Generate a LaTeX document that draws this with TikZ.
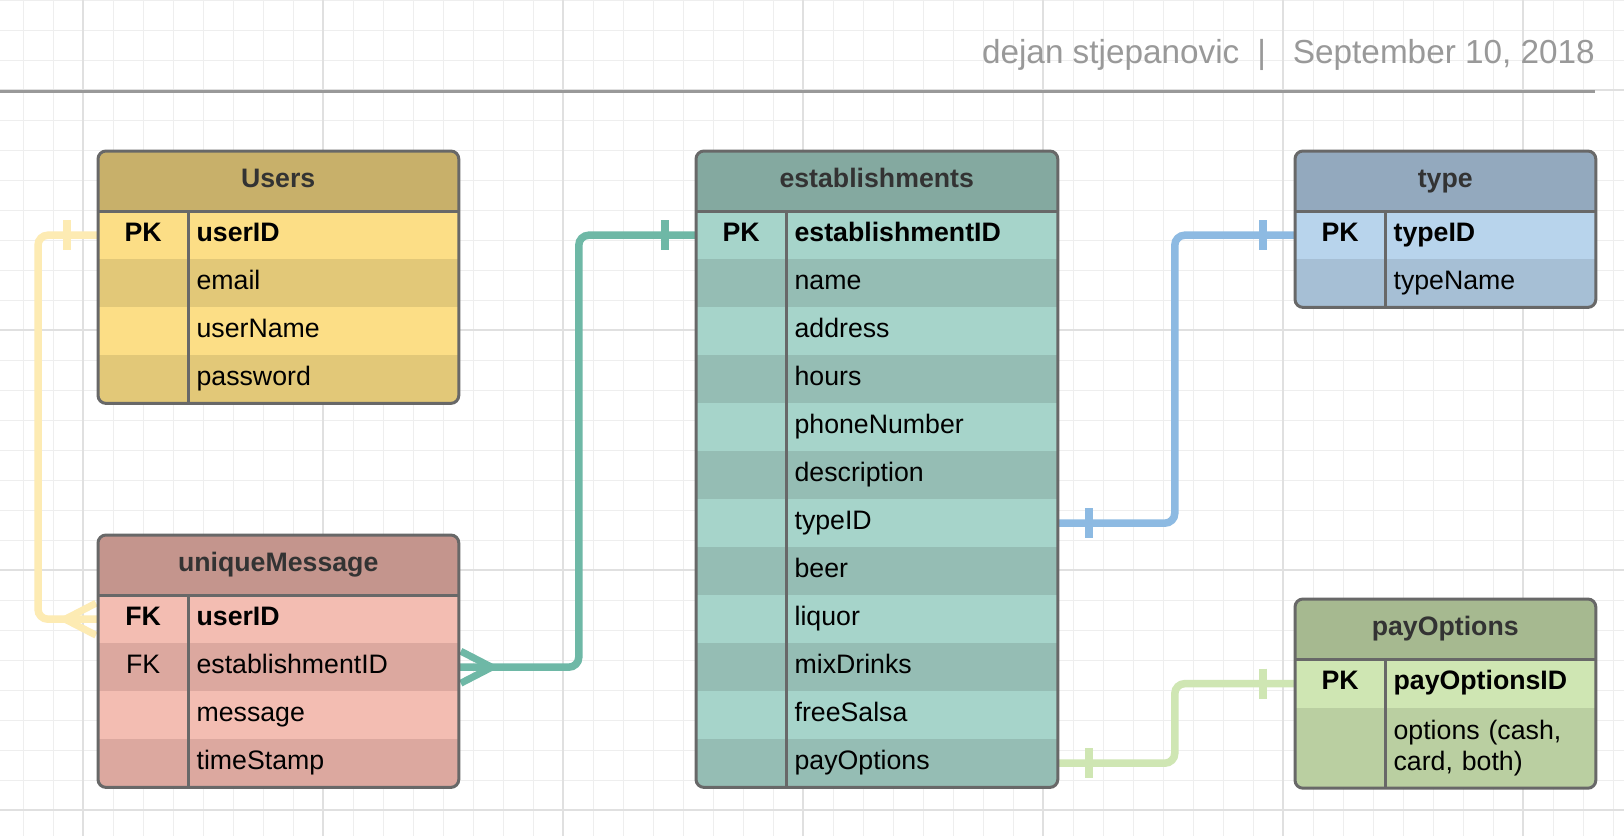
\documentclass[tikz,border=0pt]{standalone}
\usepackage{fontspec}
\setmainfont{Liberation Sans}
\usetikzlibrary{calc}
\pgfdeclarelayer{grid}
\pgfdeclarelayer{links}
\pgfsetlayers{grid,links,main}

\definecolor{gridMinor}{HTML}{EEEEEE}
\definecolor{gridMajor}{HTML}{E0E0E0}
\definecolor{noteGray}{HTML}{999999}
\definecolor{frameGray}{HTML}{686868}
\definecolor{titleGray}{HTML}{333333}
\definecolor{usrHead}{HTML}{C8B06A}
\definecolor{usrLight}{HTML}{FCDE86}
\definecolor{usrDark}{HTML}{E2C878}
\definecolor{usrLink}{HTML}{FDEBB3}
\definecolor{msgHead}{HTML}{C4958D}
\definecolor{msgLight}{HTML}{F3BDB2}
\definecolor{msgDark}{HTML}{DCA89F}
\definecolor{estHead}{HTML}{84A9A0}
\definecolor{estLight}{HTML}{A6D4CA}
\definecolor{estDark}{HTML}{95BDB4}
\definecolor{estLink}{HTML}{6EB8A6}
\definecolor{typHead}{HTML}{93A9BE}
\definecolor{typLight}{HTML}{B8D4EC}
\definecolor{typDark}{HTML}{A6BFD5}
\definecolor{typLink}{HTML}{8DBAE2}
\definecolor{payHead}{HTML}{A6B990}
\definecolor{payLight}{HTML}{CFE6B3}
\definecolor{payDark}{HTML}{BACFA1}
\definecolor{payLink}{HTML}{CFE6B3}

\newcommand{\cellfont}{\fontsize{26.7}{31}\selectfont}
\newcommand{\notefont}{\fontsize{33.3}{38}\selectfont}

\tikzset{
  gridminor/.style={draw=gridMinor, line width=1pt},
  gridmajor/.style={draw=gridMajor, line width=1.4pt},
  tabhead/.style={fill=#1, anchor=north west, minimum height=60pt, inner sep=0pt,
    font=\cellfont\bfseries, text=titleGray, text height=19pt, text depth=6.5pt},
  keycell/.style={fill=#1, anchor=north west, minimum width=90pt, minimum height=48pt,
    inner sep=0pt, font=\cellfont, text height=19pt, text depth=6.5pt},
  fieldcell/.style={anchor=north west, minimum height=48pt, inner xsep=8pt, inner ysep=0pt,
    align=left, text width=#1, font=\cellfont, text height=19pt, text depth=6.5pt},
  frame/.style={draw=frameGray, line width=3pt, rounded corners=8pt},
  rule/.style={draw=frameGray, line width=3pt},
  link/.style={line width=7.5pt, rounded corners=10pt},
  tick/.style={line width=7.5pt},
  crow/.style={line width=7pt, line join=round}
}

\begin{document}
\begin{tikzpicture}[x=1pt, y=-1pt]
  \useasboundingbox (0,0) rectangle (1624,836);

  \begin{pgfonlayer}{grid}
    \fill[white] (0,0) rectangle (1624,836);
    \foreach \gx in {23,53,...,1613} \draw[gridminor] (\gx,0) -- (\gx,836);
    \foreach \gy in {0,30,...,810} \draw[gridminor] (0,\gy) -- (1624,\gy);
    \foreach \gx in {83,323,...,1523} \draw[gridmajor] (\gx,0) -- (\gx,836);
    \foreach \gy in {90,330,570,810} \draw[gridmajor] (0,\gy) -- (1624,\gy);
  \end{pgfonlayer}

  % title block
  \node[anchor=base east, font=\notefont, text=noteGray, inner sep=0pt] (author) at (1595,63)
    {dejan stjepanovic\hspace{18pt}|\hspace{27pt}September 10, 2018};
  \draw[line width=3pt, draw=noteGray] (0,91) -- (1595,91);

  % Users
  \begin{scope}
    \clip[rounded corners=8pt] (98,151) rectangle (458,403);
    \node[tabhead=usrHead, minimum width=360pt] (usr) at (98,151) {Users};
    \foreach \k/\f [count=\i] in {\textbf{PK}/\textbf{userID}, {}/email, {}/userName, {}/password}{
      \ifodd\i \colorlet{rowfill}{usrLight}\else\colorlet{rowfill}{usrDark}\fi
      \node[keycell=rowfill] (usr-k\i) at (98,{211+48*(\i-1)}) {\k};
      \node[fieldcell=254pt, fill=rowfill] (usr-\i) at (usr-k\i.north east) {\f};
    }
  \end{scope}
  \draw[rule] (usr.south west) -- (usr.south east);
  \draw[rule] (usr-k1.north east) -- (usr-k4.south east);
  \draw[frame] (usr.north west) rectangle (usr-4.south east);

  % uniqueMessage
  \begin{scope}
    \clip[rounded corners=8pt] (98,535) rectangle (458,787);
    \node[tabhead=msgHead, minimum width=360pt] (msg) at (98,535) {uniqueMessage};
    \foreach \k/\f [count=\i] in {\textbf{FK}/\textbf{userID}, FK/establishmentID, {}/message, {}/timeStamp}{
      \ifodd\i \colorlet{rowfill}{msgLight}\else\colorlet{rowfill}{msgDark}\fi
      \node[keycell=rowfill] (msg-k\i) at (98,{595+48*(\i-1)}) {\k};
      \node[fieldcell=254pt, fill=rowfill] (msg-\i) at (msg-k\i.north east) {\f};
    }
  \end{scope}
  \draw[rule] (msg.south west) -- (msg.south east);
  \draw[rule] (msg-k1.north east) -- (msg-k4.south east);
  \draw[frame] (msg.north west) rectangle (msg-4.south east);

  % establishments
  \begin{scope}
    \clip[rounded corners=8pt] (696,151) rectangle (1057,787);
    \node[tabhead=estHead, minimum width=361pt] (est) at (696,151) {establishments};
    \foreach \k/\f [count=\i] in {\textbf{PK}/\textbf{establishmentID}, {}/name, {}/address,
        {}/hours, {}/phoneNumber, {}/description, {}/typeID, {}/beer, {}/liquor,
        {}/mixDrinks, {}/freeSalsa, {}/payOptions}{
      \ifodd\i \colorlet{rowfill}{estLight}\else\colorlet{rowfill}{estDark}\fi
      \node[keycell=rowfill] (est-k\i) at (696,{211+48*(\i-1)}) {\k};
      \node[fieldcell=255pt, fill=rowfill] (est-\i) at (est-k\i.north east) {\f};
    }
  \end{scope}
  \draw[rule] (est.south west) -- (est.south east);
  \draw[rule] (est-k1.north east) -- (est-k12.south east);
  \draw[frame] (est.north west) rectangle (est-12.south east);

  % type
  \begin{scope}
    \clip[rounded corners=8pt] (1295,151) rectangle (1595,307);
    \node[tabhead=typHead, minimum width=300pt] (typ) at (1295,151) {type};
    \foreach \k/\f [count=\i] in {\textbf{PK}/\textbf{typeID}, {}/typeName}{
      \ifodd\i \colorlet{rowfill}{typLight}\else\colorlet{rowfill}{typDark}\fi
      \node[keycell=rowfill] (typ-k\i) at (1295,{211+48*(\i-1)}) {\k};
      \node[fieldcell=194pt, fill=rowfill] (typ-\i) at (typ-k\i.north east) {\f};
    }
  \end{scope}
  \draw[rule] (typ.south west) -- (typ.south east);
  \draw[rule] (typ-k1.north east) -- (typ-k2.south east);
  \draw[frame] (typ.north west) rectangle (typ-2.south east);

  % payOptions
  \begin{scope}
    \clip[rounded corners=8pt] (1295,599) rectangle (1595,787);
    \node[tabhead=payHead, minimum width=300pt] (pay) at (1295,599) {payOptions};
    \node[keycell=payLight] (pay-k1) at (pay.south west) {\textbf{PK}};
    \node[fieldcell=194pt, fill=payLight] (pay-1) at (pay-k1.north east) {\textbf{payOptionsID}};
    \node[keycell=payDark, minimum height=80pt] (pay-k2) at (pay-k1.south west) {};
    \node[fieldcell=194pt, fill=payDark, minimum height=80pt, text height=, text depth=]
      (pay-2) at (pay-k2.north east) {options (cash,\\card, both)};
  \end{scope}
  \draw[rule] (pay.south west) -- (pay.south east);
  \draw[rule] (pay-k1.north east) -- (pay-k2.south east);
  \draw[frame] (pay.north west) rectangle (pay-2.south east);

  % relations
  \begin{pgfonlayer}{links}
    \draw[link, draw=usrLink] (usr-k1.west) -- ++(-60,0) |- (msg-k1.west);
    \draw[tick, draw=usrLink] ($(usr-k1.west)+(-31,-15)$) -- ++(0,30);
    \draw[crow, draw=usrLink] ($(msg-k1.west)+(-2,-16)$) -- ++(-31,16) -- ++(31,16);

    \draw[link, draw=estLink] (msg-2.east) -- ++(120,0) |- (est-k1.west);
    \draw[tick, draw=estLink] ($(est-k1.west)+(-31,-15)$) -- ++(0,30);
    \draw[crow, draw=estLink] ($(msg-2.east)+(2,-16)$) -- ++(31,16) -- ++(-31,16);

    \draw[link, draw=typLink] (est-7.east) -- ++(117,0) |- (typ-k1.west);
    \draw[tick, draw=typLink] ($(est-7.east)+(31,-15)$) -- ++(0,30);
    \draw[tick, draw=typLink] ($(typ-k1.west)+(-32,-15)$) -- ++(0,30);

    \draw[link, draw=payLink] (est-12.east) -- ++(117,0) |- (pay-k1.west);
    \draw[tick, draw=payLink] ($(est-12.east)+(31,-15)$) -- ++(0,30);
    \draw[tick, draw=payLink] ($(pay-k1.west)+(-32,-15)$) -- ++(0,30);
  \end{pgfonlayer}
\end{tikzpicture}
\end{document}
